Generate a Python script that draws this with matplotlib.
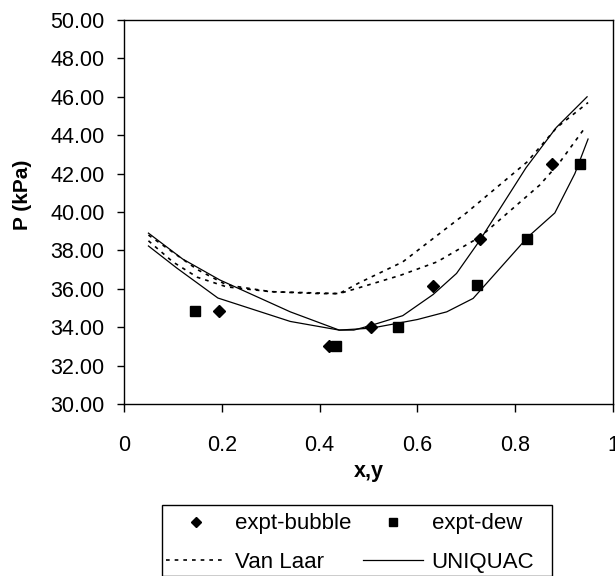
import matplotlib
matplotlib.use("Agg")
import matplotlib.pyplot as plt
from matplotlib.patches import Rectangle
from matplotlib.lines import Line2D

plt.rcParams['font.family'] = ['Liberation Sans', 'DejaVu Sans']

# experimental points
x_bubble = [0.194, 0.420, 0.506, 0.632, 0.727, 0.876]
P_bubble = [34.85, 33.00, 34.00, 36.15, 38.60, 42.50]
y_dew = [0.145, 0.433, 0.561, 0.722, 0.825, 0.933]
P_dew = [34.85, 33.00, 34.00, 36.20, 38.60, 42.50]

# Van Laar model curves
vl1_x = [0.05, 0.10, 0.15, 0.21, 0.30, 0.40, 0.44, 0.48, 0.57, 0.70, 0.824, 0.885, 0.949]
vl1_P = [38.80, 37.90, 37.00, 36.20, 35.85, 35.75, 35.75, 36.30, 37.40, 39.95, 42.60, 44.40, 45.70]
vl2_x = [0.05, 0.10, 0.15, 0.21, 0.30, 0.44, 0.48, 0.565, 0.64, 0.728, 0.85, 0.89, 0.943]
vl2_P = [38.50, 37.40, 36.60, 36.10, 35.85, 35.75, 36.05, 36.70, 37.40, 38.70, 41.40, 42.55, 44.40]

# UNIQUAC model curves
uq1_x = [0.05, 0.12, 0.196, 0.34, 0.44, 0.47, 0.506, 0.57, 0.632, 0.68, 0.727, 0.822, 0.884, 0.947]
uq1_P = [38.90, 37.55, 36.46, 34.80, 33.85, 33.85, 34.10, 34.60, 35.70, 36.80, 38.50, 42.30, 44.40, 46.00]
uq2_x = [0.05, 0.108, 0.192, 0.34, 0.44, 0.506, 0.60, 0.66, 0.714, 0.826, 0.881, 0.922, 0.949]
uq2_P = [38.23, 37.08, 35.52, 34.30, 33.85, 33.95, 34.40, 34.80, 35.50, 38.70, 39.95, 42.00, 43.80]

W, H = 615, 576
fig = plt.figure(figsize=(W / 100, H / 100), dpi=100)
ax = fig.add_axes([124 / W, 1 - 404 / H, 489 / W, 384 / H])

dot = (0, (2.2, 3.0))
ax.plot(vl1_x, vl1_P, color='black', lw=1.2, linestyle=dot)
ax.plot(vl2_x, vl2_P, color='black', lw=1.2, linestyle=dot)
ax.plot(uq1_x, uq1_P, color='black', lw=0.9)
ax.plot(uq2_x, uq2_P, color='black', lw=0.9)
ax.plot(x_bubble, P_bubble, 'D', color='black', ms=6, zorder=3)
ax.plot(y_dew, P_dew, 's', color='black', ms=7, zorder=3)

ax.set_xlim(0, 1)
ax.set_ylim(30, 50)
ax.set_xticks([0, 0.2, 0.4, 0.6, 0.8, 1])
ax.set_xticklabels(['0', '0.2', '0.4', '0.6', '0.8', '1'])
ax.set_yticks(range(30, 51, 2))
ax.set_yticklabels([f'{v:.2f}' for v in range(30, 51, 2)])
ax.tick_params(axis='y', direction='out', length=5, width=1, pad=9, labelsize=15.5)
ax.tick_params(axis='x', direction='out', length=6, width=1, pad=16, labelsize=15.5)
for s in ax.spines.values():
    s.set_linewidth(1)

ax.set_xlabel('x,y', fontsize=15.5, fontweight='bold', va='center')
ax.xaxis.set_label_coords(0.5, (404 - 471) / 384)
ax.set_ylabel('P (kPa)', fontsize=15, fontweight='bold', va='center')
ax.yaxis.set_label_coords((23 - 124) / 489, (404 - 195) / 384)

# legend box, running off the bottom edge as in the original
fig.patches.append(Rectangle((162 / W, 0), (552 - 162) / W, 1 - 505 / H,
                             transform=fig.transFigure, fill=False,
                             edgecolor='black', lw=1))
handles = [
    Line2D([], [], marker='D', color='black', ls='none', ms=5),
    Line2D([], [], color='black', lw=1.2, linestyle=dot),
    Line2D([], [], marker='s', color='black', ls='none', ms=6),
    Line2D([], [], color='black', lw=0.9),
]
labels = ['expt-bubble', 'Van Laar', 'expt-dew', 'UNIQUAC']
fig.legend(handles, labels, ncol=2, loc='upper left',
           bbox_to_anchor=(162 / W, 1 - 509 / H), frameon=False,
           fontsize=16, handlelength=2.7, handletextpad=0.4,
           columnspacing=0.5, borderpad=0.2, borderaxespad=0,
           labelspacing=0.78)

fig.savefig('out.png', dpi=100)
